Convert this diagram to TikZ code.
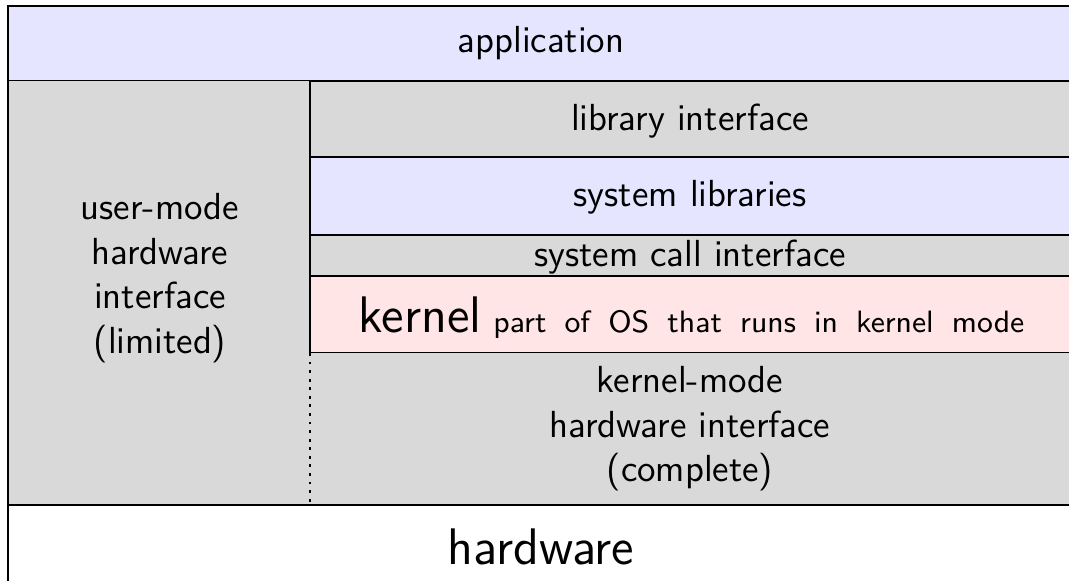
\documentclass[tikz,border=0pt]{standalone}
\usepackage{fontspec}
\definecolor{appblue}{HTML}{E5E5FF}
\definecolor{osgray}{HTML}{D9D9D9}
\definecolor{kpink}{HTML}{FFE5E5}
\newcommand{\wgap}{\hspace{5.3pt}}

\begin{document}
\begin{tikzpicture}[
  x=0.01025cm, y=-0.01025cm,
  layer/.style={draw=black, line width=0.85pt, fill=#1},
  lbl/.style={font=\fontsize{11}{13}\selectfont\sffamily, text=black, align=center},
  bigl/.style={font=\fontsize{15}{17}\selectfont\sffamily, text=black},
]
\useasboundingbox (0,0) rectangle (1069,581);

% Row boundaries (pixel units, y grows downwards)
\def\rApp{6}
\def\rLib{81}
\def\rSys{157}
\def\rCall{235}
\def\rKer{276}
\def\rHw{353}
\def\rBot{505}
\def\xL{8}
\def\xM{310}
\def\xR{1085}

% Application layer
\draw[layer=appblue] (\xL,\rApp) rectangle (\xR,\rLib);

% User-mode column (left)
\fill[osgray] (\xL,\rLib) rectangle (\xM,\rBot);
\draw[line width=0.85pt] (\xL,\rLib) -- (\xL,\rBot);

% Right column
\draw[layer=osgray] (\xM,\rLib) rectangle (\xR,\rSys);
\draw[layer=appblue] (\xM,\rSys) rectangle (\xR,\rCall);
\draw[layer=osgray] (\xM,\rCall) rectangle (\xR,\rKer);
\draw[layer=kpink] (\xM,\rKer) rectangle (\xR,\rHw);
\fill[osgray] (\xM,\rHw) rectangle (\xR,\rBot);
\draw[line width=0.85pt, dash pattern=on 0.85pt off 1.65pt] (\xM,\rHw) -- (\xM,\rBot);

% Hardware
\draw[layer=white] (\xL,\rBot) rectangle (\xR,584);

% Labels
\node[lbl] (app) at (541,43) {application};
\node[lbl] (usermode) at (160,278) {user-mode\\hardware\\interface\\(limited)};
\node[lbl] (libif) at (690,121) {library interface};
\node[lbl] (syslib) at (690,197) {system libraries};
\node[lbl] (syscall) at (690,257) {system call interface};
\node[bigl, anchor=base west, inner sep=0pt] (kernel) at (358,332) {kernel};
\node[lbl, anchor=base east, inner sep=0pt, font=\fontsize{9}{11}\selectfont\sffamily] (kdesc) at (1025,332)
  {part\wgap of\wgap OS\wgap that\wgap runs\wgap in\wgap kernel\wgap mode};
\node[lbl] (kmhw) at (690,429) {kernel-mode\\hardware interface\\(complete)};
\node[bigl] (hw) at (541,547) {hardware};

\end{tikzpicture}
\end{document}
